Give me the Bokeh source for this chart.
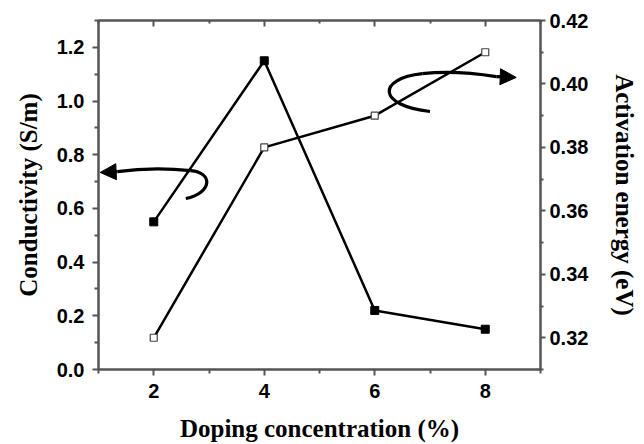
from bokeh.plotting import figure
from bokeh.models import (LinearAxis, Range1d, FixedTicker, CustomJSTickFormatter,
                          Arrow, NormalHead)
from bokeh.embed import file_html
from bokeh.resources import INLINE

# ---- data ----
doping = [2, 4, 6, 8]
conductivity = [0.55, 1.15, 0.22, 0.15]
activation_energy = [0.32, 0.38, 0.39, 0.41]

x_ticks = [2, 4, 6, 8]
x_minor = [1, 3, 5, 7, 9]
left_ticks = [0.0, 0.2, 0.4, 0.6, 0.8, 1.0, 1.2]
left_minor = [0.1, 0.3, 0.5, 0.7, 0.9, 1.1, 1.3]
right_ticks = [0.32, 0.34, 0.36, 0.38, 0.40, 0.42]
right_minor = [0.31, 0.33, 0.35, 0.37, 0.39, 0.41]

# decorative curved arrows (data coords on the conductivity axis)
left_curve_x = [2.58, 3.07, 3.07, 2.67, 2.13, 1.76, 1.34]
left_curve_y = [0.637, 0.659, 0.734, 0.741, 0.752, 0.749, 0.737]
left_tip = (1.03, 0.734)
right_curve_x = [7.0, 6.04, 6.04, 6.86, 7.4, 7.86, 8.2]
right_curve_y = [0.961, 0.983, 1.084, 1.102, 1.114, 1.102, 1.091]
right_tip = (8.56, 1.088)

AXC = "#555555"
TICKFONT = "Liberation Sans"
TITLEFONT = "Liberation Serif"

p = figure(width=644, height=444, output_backend="svg", toolbar_location=None,
           x_range=Range1d(1, 9), y_range=Range1d(0, 1.3),
           x_axis_location=None, y_axis_location=None,
           min_border_left=98, min_border_right=104, min_border_top=20,
           min_border_bottom=75)
p.xgrid.visible = False
p.ygrid.visible = False
p.outline_line_color = AXC
p.outline_line_width = 2
p.background_fill_color = "white"
p.border_fill_color = "white"
p.extra_y_ranges = {"ae": Range1d(0.31, 0.42)}


def style(ax, title=None):
    ax.axis_line_color = AXC
    ax.axis_line_width = 2
    ax.major_tick_line_color = AXC
    ax.minor_tick_line_color = AXC
    ax.major_tick_line_width = 2
    ax.minor_tick_line_width = 2
    ax.major_label_text_font = TICKFONT
    ax.major_label_text_font_style = "bold"
    ax.major_label_text_font_size = "20px"
    ax.major_label_text_color = "black"
    if title:
        ax.axis_label = title
        ax.axis_label_text_font = TITLEFONT
        ax.axis_label_text_font_style = "bold"
        ax.axis_label_text_font_size = "25px"
        ax.axis_label_text_color = "black"


xb = LinearAxis(ticker=FixedTicker(ticks=x_ticks, minor_ticks=x_minor))
style(xb, "Doping concentration (%)")
xb.major_tick_out = 6
xb.major_tick_in = 0
xb.minor_tick_out = 4
xb.minor_tick_in = 0
xb.major_label_standoff = 8
xb.axis_label_standoff = 14
p.add_layout(xb, "below")

xt = LinearAxis(ticker=FixedTicker(ticks=x_ticks, minor_ticks=x_minor),
                formatter=CustomJSTickFormatter(code="return ''"))
style(xt)
xt.major_tick_out = 0
xt.major_tick_in = 6
xt.minor_tick_out = 0
xt.minor_tick_in = 3
xt.major_label_standoff = 0
p.add_layout(xt, "above")

yl = LinearAxis(ticker=FixedTicker(ticks=left_ticks, minor_ticks=left_minor),
                formatter=CustomJSTickFormatter(code="return tick.toFixed(1)"))
style(yl, "Conductivity (S/m)")
yl.major_tick_out = 6
yl.major_tick_in = 0
yl.minor_tick_out = 4
yl.minor_tick_in = 0
yl.major_label_standoff = 8
yl.axis_label_standoff = 12
p.add_layout(yl, "left")

yr = LinearAxis(y_range_name="ae",
                ticker=FixedTicker(ticks=right_ticks, minor_ticks=right_minor),
                formatter=CustomJSTickFormatter(code="return tick.toFixed(2)"))
style(yr, "Activation energy (eV)")
yr.major_tick_out = 5
yr.major_tick_in = 0
yr.minor_tick_out = 3
yr.minor_tick_in = 0
yr.major_label_standoff = 4
yr.axis_label_standoff = 20
p.add_layout(yr, "right")

# series
p.line(doping, conductivity, line_color="black", line_width=2.5)
p.scatter(doping, conductivity, marker="square", size=8, fill_color="black",
          line_color="black")
p.line(doping, activation_energy, y_range_name="ae", line_color="black", line_width=2.5)
p.scatter(doping, activation_energy, y_range_name="ae", marker="square", size=7,
          fill_color="white", line_color="#444444", line_width=1.2)

# curved arrows
lx, ly = left_curve_x, left_curve_y
p.bezier(x0=[lx[0], lx[3]], y0=[ly[0], ly[3]], x1=[lx[3], lx[6]], y1=[ly[3], ly[6]],
         cx0=[lx[1], lx[4]], cy0=[ly[1], ly[4]], cx1=[lx[2], lx[5]], cy1=[ly[2], ly[5]],
         line_color="black", line_width=3.2)
p.add_layout(Arrow(end=NormalHead(size=16, fill_color="black", line_color="black"),
                   line_color="black", line_width=3.2,
                   x_start=lx[6], y_start=ly[6], x_end=left_tip[0], y_end=left_tip[1]))
rx, ry = right_curve_x, right_curve_y
p.bezier(x0=[rx[0], rx[3]], y0=[ry[0], ry[3]], x1=[rx[3], rx[6]], y1=[ry[3], ry[6]],
         cx0=[rx[1], rx[4]], cy0=[ry[1], ry[4]], cx1=[rx[2], rx[5]], cy1=[ry[2], ry[5]],
         line_color="black", line_width=3.2)
p.add_layout(Arrow(end=NormalHead(size=16, fill_color="black", line_color="black"),
                   line_color="black", line_width=3.2,
                   x_start=rx[6], y_start=ry[6], x_end=right_tip[0], y_end=right_tip[1]))

open("out.html", "w").write(file_html(p, INLINE))
